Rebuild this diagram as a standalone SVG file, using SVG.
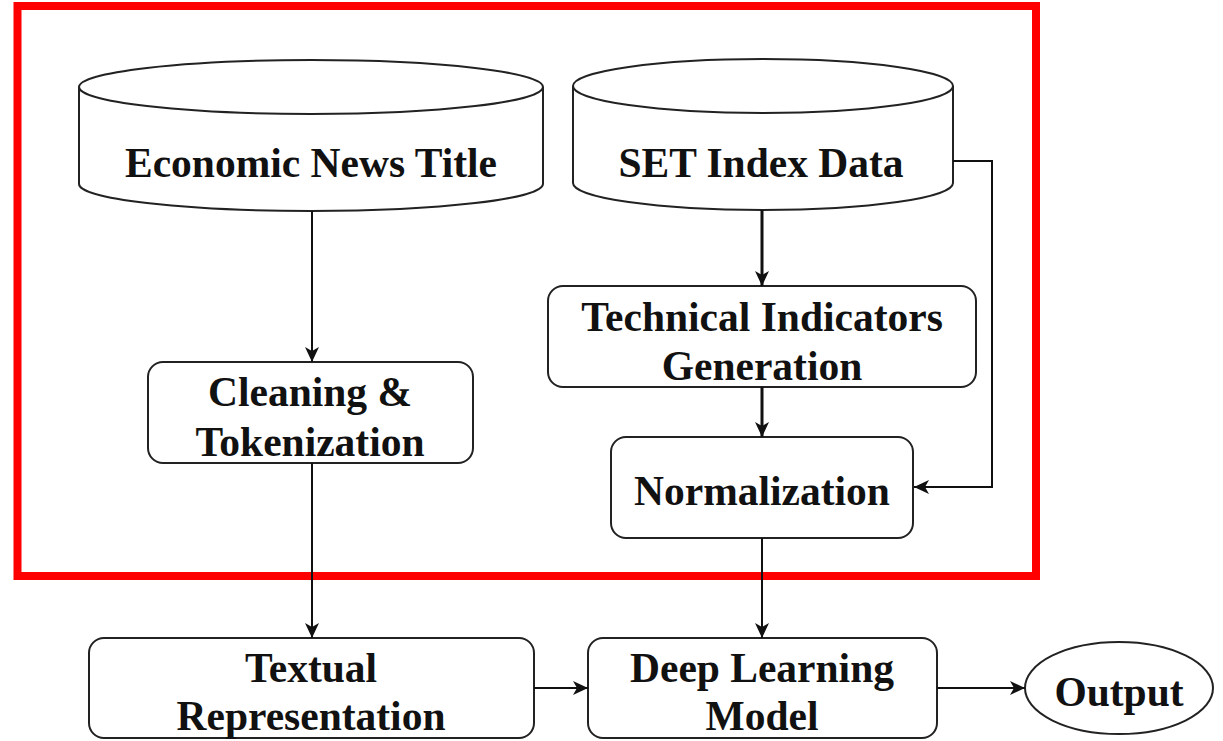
<svg xmlns="http://www.w3.org/2000/svg" width="1223" height="741" viewBox="0 0 1223 741">
<style>
.box{fill:#fff;stroke:#222;stroke-width:2}
.t{font-family:"Liberation Serif","Times New Roman",serif;font-weight:bold;font-size:41.5px;fill:#111;text-anchor:middle}
.c{fill:none;stroke:#111;stroke-width:2}
.c3{fill:none;stroke:#111;stroke-width:3}
</style>
<defs>
<marker id="ah" markerUnits="userSpaceOnUse" markerWidth="16" markerHeight="16" refX="15" refY="8" orient="auto">
<path d="M0,1 L15,8 L0,15 L4,8 Z" fill="#111"/>
</marker>
</defs>
<rect x="17.5" y="6" width="1018.5" height="570" fill="none" stroke="#ff0000" stroke-width="8"/>
<g id="economic-news">
<path class="box" d="M79,87 A232,27 0 0 1 543,87 L543,184 A232,27 0 0 1 79,184 Z"/>
<path class="box" fill="none" d="M79,87 A232,27 0 0 0 543,87"/>
<text class="t" x="311" y="177">Economic News Title</text>
</g>
<g id="set-index">
<path class="box" d="M573,86 A190,27 0 0 1 953,86 L953,183 A190,27 0 0 1 573,183 Z"/>
<path class="box" fill="none" d="M573,86 A190,27 0 0 0 953,86"/>
<text class="t" x="761" y="177">SET Index Data</text>
</g>
<g id="cleaning">
<rect class="box" x="148" y="362" width="325" height="101" rx="15"/>
<text class="t" x="310" y="406">Cleaning &amp;</text>
<text class="t" x="310" y="456">Tokenization</text>
</g>
<g id="technical">
<rect class="box" x="548" y="286" width="428" height="101" rx="15"/>
<text class="t" x="762" y="331">Technical Indicators</text>
<text class="t" x="762" y="380">Generation</text>
</g>
<g id="normalization">
<rect class="box" x="611" y="437" width="302" height="101" rx="15"/>
<text class="t" x="762" y="505">Normalization</text>
</g>
<g id="textual">
<rect class="box" x="89" y="638" width="445" height="100" rx="15"/>
<text class="t" x="311" y="682">Textual</text>
<text class="t" x="311" y="730">Representation</text>
</g>
<g id="deep-learning">
<rect class="box" x="588" y="638" width="349" height="100" rx="15"/>
<text class="t" x="762" y="682">Deep Learning</text>
<text class="t" x="762" y="730">Model</text>
</g>
<g id="output">
<ellipse class="box" cx="1119" cy="688" rx="94" ry="46"/>
<text class="t" x="1119" y="706">Output</text>
</g>
<g id="connectors">
<path class="c" d="M312,211 L312,362" marker-end="url(#ah)"/>
<path class="c3" d="M762,210 L762,286" marker-end="url(#ah)"/>
<path class="c3" d="M762,387 L762,437" marker-end="url(#ah)"/>
<path class="c" d="M953,161 L992,161 L992,487 L914,487" marker-end="url(#ah)"/>
<path class="c" d="M312,463 L312,638" marker-end="url(#ah)"/>
<path class="c" d="M762,538 L762,638" marker-end="url(#ah)"/>
<path class="c" d="M534,688 L588,688" marker-end="url(#ah)"/>
<path class="c" d="M937,688 L1025,688" marker-end="url(#ah)"/>
</g>
</svg>
